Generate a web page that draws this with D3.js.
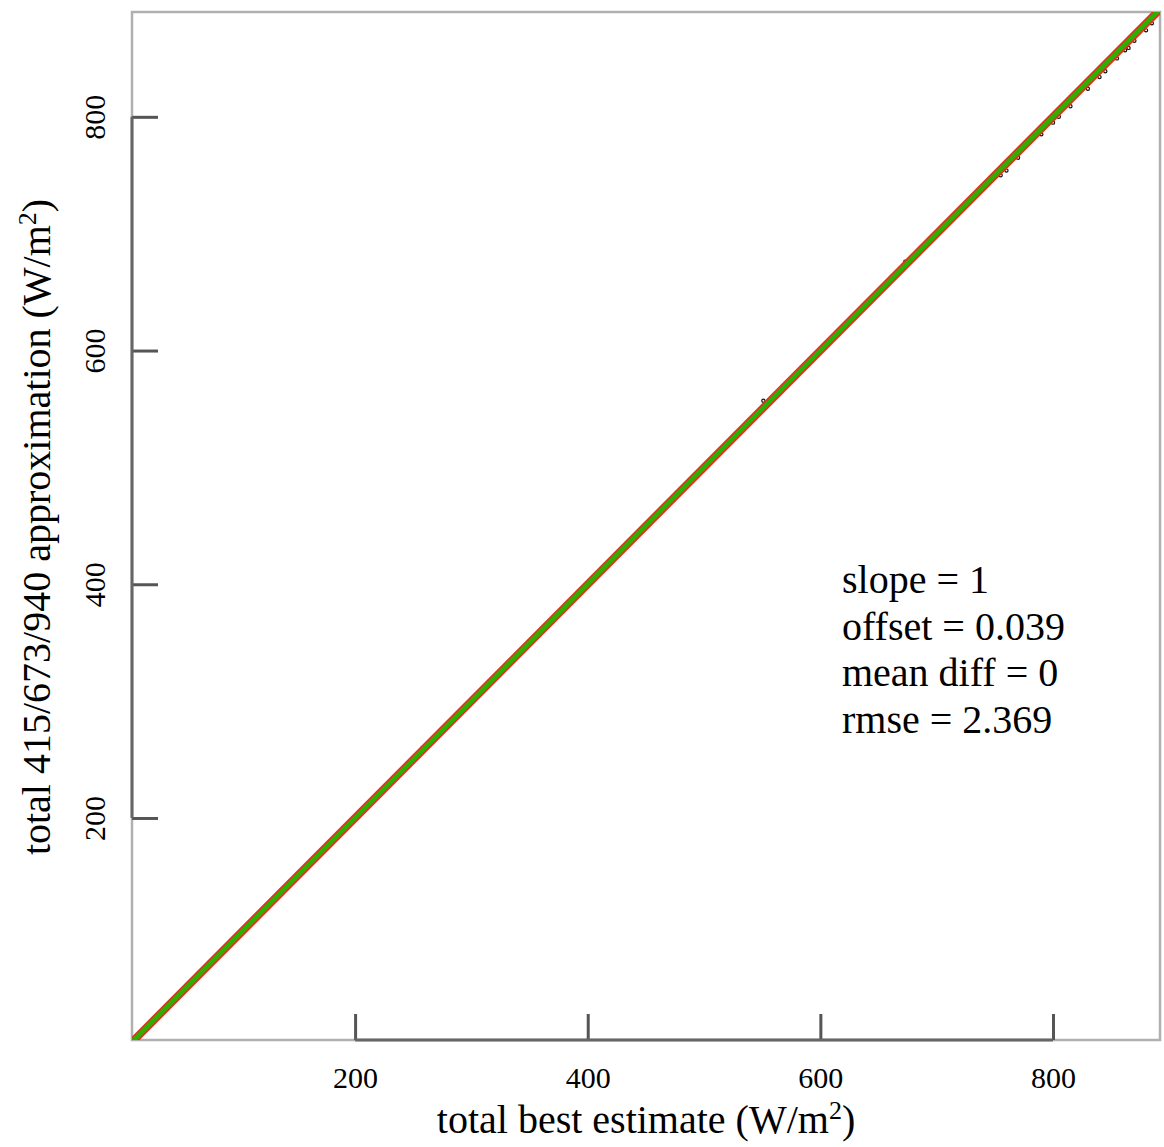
<!DOCTYPE html>
<html>
<head>
<meta charset="utf-8">
<script src="https://cdn.jsdelivr.net/npm/d3@7"></script>
<style>
  html, body { margin: 0; padding: 0; background: #fff; }
  svg { display: block; }
  text { font-family: "Liberation Serif", "Times New Roman", serif; fill: #000; }
</style>
</head>
<body>
<svg id="chart" width="1164" height="1147"></svg>
<script>
// ---- data ----
const bestEstimate = [10, 12, 14, 18, 25, 40, 60, 85, 110, 140, 170, 200, 230, 258, 290, 320, 350, 380, 410, 440, 470, 500, 530, 551, 580, 610, 640, 673, 700, 730, 755, 760, 770, 790, 800, 805, 815, 830, 840, 845, 855, 862, 865, 870, 880, 885];
const approximation = [11, 12, 15, 18, 25, 41, 60, 85, 111, 140, 171, 200, 231, 260, 291, 320, 351, 381, 410, 441, 471, 500, 531, 557, 581, 611, 641, 676, 701, 731, 750, 754, 765, 785, 795, 800, 809, 824, 834, 839, 850, 857, 859, 865, 874, 880];
const xTicks = [200, 400, 600, 800];
const yTicks = [200, 400, 600, 800];
const fitSlope = 1;
const fitOffset = 0.039;
const statsLines = ["slope = 1", "offset = 0.039", "mean diff = 0", "rmse = 2.369"];
const xDomain = [8.2, 892];
const yDomain = [10, 889.7];

// ---- layout ----
const svg = d3.select("#chart");
const L = 132, R = 1160, T = 12, B = 1040;
const x = d3.scaleLinear().domain(xDomain).range([L, R]);
const y = d3.scaleLinear().domain(yDomain).range([B, T]);

svg.append("defs").append("clipPath").attr("id", "clip")
  .append("rect").attr("x", L).attr("y", T).attr("width", R - L).attr("height", B - T);

// box
svg.append("rect").attr("x", L).attr("y", T).attr("width", R - L).attr("height", B - T)
  .attr("fill", "none").attr("stroke", "#b0b0b0").attr("stroke-width", 2.5);

// points
const pts = bestEstimate.map((v, i) => [v, approximation[i]]);
const plot = svg.append("g").attr("clip-path", "url(#clip)");
plot.selectAll("circle").data(pts).enter().append("circle")
  .attr("cx", d => x(d[0])).attr("cy", d => y(d[1])).attr("r", 1.6)
  .attr("fill", "none").attr("stroke", "#111").attr("stroke-width", 1.2);

// lines
const lo = -50, hi = 1000;
plot.append("line")
  .attr("x1", x(lo)).attr("y1", y(lo)).attr("x2", x(hi)).attr("y2", y(hi))
  .attr("stroke", "#e2321f").attr("stroke-width", 8);
plot.append("line")
  .attr("x1", x(lo)).attr("y1", y(fitSlope * lo + fitOffset))
  .attr("x2", x(hi)).attr("y2", y(fitSlope * hi + fitOffset))
  .attr("stroke", "#2eae00").attr("stroke-width", 4.5);

// axes (R style: line spans first..last tick, ticks inward)
const xAxis = d3.axisBottom(x).tickValues(xTicks).tickSize(-26).tickPadding(0).tickFormat(d3.format("d"));
const gx = svg.append("g").attr("transform", `translate(0,${B})`).call(xAxis);
gx.select(".domain").remove();
gx.selectAll(".tick line").attr("stroke", "#555").attr("stroke-width", 3);
gx.append("line").attr("x1", x(xTicks[0])).attr("x2", x(xTicks[xTicks.length - 1]))
  .attr("stroke", "#666").attr("stroke-width", 3);
gx.selectAll(".tick text").attr("y", 48).attr("dy", null)
  .style("font-size", "30px").style("font-family", '"Liberation Serif", serif').attr("fill", "#000");

const yAxis = d3.axisLeft(y).tickValues(yTicks).tickSize(-26).tickPadding(0).tickFormat(d3.format("d"));
const gy = svg.append("g").attr("transform", `translate(${L},0)`).call(yAxis);
gy.select(".domain").remove();
gy.selectAll(".tick line").attr("stroke", "#555").attr("stroke-width", 3);
gy.append("line").attr("y1", y(yTicks[0])).attr("y2", y(yTicks[yTicks.length - 1]))
  .attr("stroke", "#666").attr("stroke-width", 3);
gy.selectAll(".tick text")
  .attr("x", null).attr("dy", null)
  .attr("transform", "translate(-27,0) rotate(-90)")
  .attr("text-anchor", "middle")
  .style("font-size", "30px").style("font-family", '"Liberation Serif", serif').attr("fill", "#000");

// axis titles
const xt = svg.append("text").attr("x", 646).attr("y", 1133).attr("text-anchor", "middle")
  .style("font-size", "40px");
xt.append("tspan").text("total best estimate (W/m");
xt.append("tspan").text("2").attr("dy", -14).style("font-size", "26px");
xt.append("tspan").text(")").attr("dy", 14);

const yt = svg.append("text").attr("transform", "translate(50,527) rotate(-90)").attr("text-anchor", "middle")
  .style("font-size", "40px");
yt.append("tspan").text("total 415/673/940 approximation (W/m");
yt.append("tspan").text("2").attr("dy", -14).style("font-size", "26px");
yt.append("tspan").text(")").attr("dy", 14);

// stats annotation
svg.append("g").selectAll("text").data(statsLines).enter().append("text")
  .attr("x", 842).attr("y", (d, i) => 593 + i * 46.5)
  .style("font-size", "40px").text(d => d);
</script>
</body>
</html>
